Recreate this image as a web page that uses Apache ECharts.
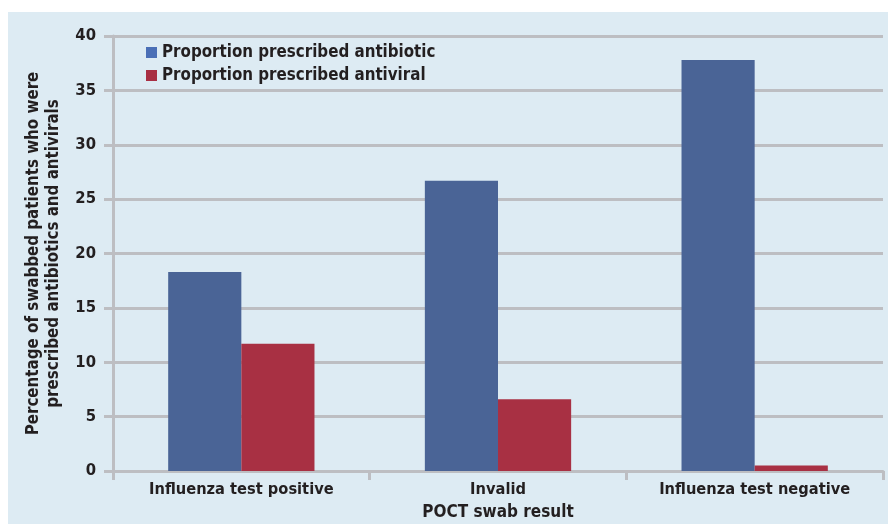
<!DOCTYPE html>
<html><head><meta charset="utf-8">
<script src="https://cdn.jsdelivr.net/npm/echarts@6/dist/echarts.min.js"></script>
<style>html,body{margin:0;padding:0;background:#fff}#c{width:888px;height:524px}</style>
</head><body><div id="c"></div>
<script>
const categories = ['Influenza test positive', 'Invalid', 'Influenza test negative'];
const antibiotic = [18.3, 26.7, 37.8];
const antiviral = [11.7, 6.6, 0.5];
const yTicks = [0, 5, 10, 15, 20, 25, 30, 35, 40];
const seriesNames = ['Proportion prescribed antibiotic', 'Proportion prescribed antiviral'];

const FONT = '"DejaVu Sans Condensed", "Roboto Condensed", Roboto, sans-serif';
const GRAY = '#bdbec2';
const TXT = '#231f20';
const chart = echarts.init(document.getElementById('c'));
chart.setOption({
  animation: false,
  graphic: [{ type: 'rect', z: -10, silent: true, shape: { x: 8, y: 12, width: 880, height: 512 }, style: { fill: '#ddebf3' } }],
  textStyle: { fontFamily: FONT },
  grid: { left: 113, right: 5, top: 36, bottom: 53, outerBoundsMode: 'none', containLabel: false },
  legend: {
    orient: 'vertical', left: 141, top: 39, itemWidth: 11, itemHeight: 11, itemGap: 6,
    icon: 'rect',
    textStyle: { fontFamily: FONT, fontSize: 16.8, fontWeight: 'bold', color: TXT },
    data: [
      { name: seriesNames[0], itemStyle: { color: '#4a6fb6' } },
      { name: seriesNames[1], itemStyle: { color: '#a82f43' } }
    ]
  },
  xAxis: {
    type: 'category', data: categories,
    name: 'POCT swab result', nameLocation: 'middle', nameGap: 33,
    nameTextStyle: { fontFamily: FONT, fontSize: 17, fontWeight: 'bold', color: TXT },
    axisLine: { lineStyle: { color: GRAY, width: 3 } },
    axisTick: { show: true, length: 9, lineStyle: { color: GRAY, width: 3 } },
    axisLabel: { fontFamily: FONT, fontSize: 16.3, fontWeight: 'bold', color: TXT, margin: 11 }
  },
  yAxis: {
    type: 'value', min: 0, max: 40, interval: 5,
    name: 'Percentage of swabbed patients who were\nprescribed antibiotics and antivirals',
    nameLocation: 'middle', nameGap: 49, nameRotate: 90,
    nameTextStyle: { fontFamily: FONT, fontSize: 16.8, fontWeight: 'bold', color: TXT, lineHeight: 20 },
    axisLine: { show: true, lineStyle: { color: GRAY, width: 3 } },
    axisTick: { show: true, length: 9, lineStyle: { color: GRAY, width: 3 } },
    splitLine: { lineStyle: { color: GRAY, width: 3 } },
    axisLabel: { fontFamily: FONT, fontSize: 16.5, fontWeight: 'bold', color: TXT, margin: 17,
      formatter: v => yTicks.includes(v) ? String(v) : '' }
  },
  series: [
    { name: seriesNames[0], type: 'bar', data: antibiotic, barGap: '0%', barCategoryGap: '43%', itemStyle: { color: '#4a6496' } },
    { name: seriesNames[1], type: 'bar', data: antiviral, itemStyle: { color: '#a83043' } }
  ]
});
</script></body></html>
